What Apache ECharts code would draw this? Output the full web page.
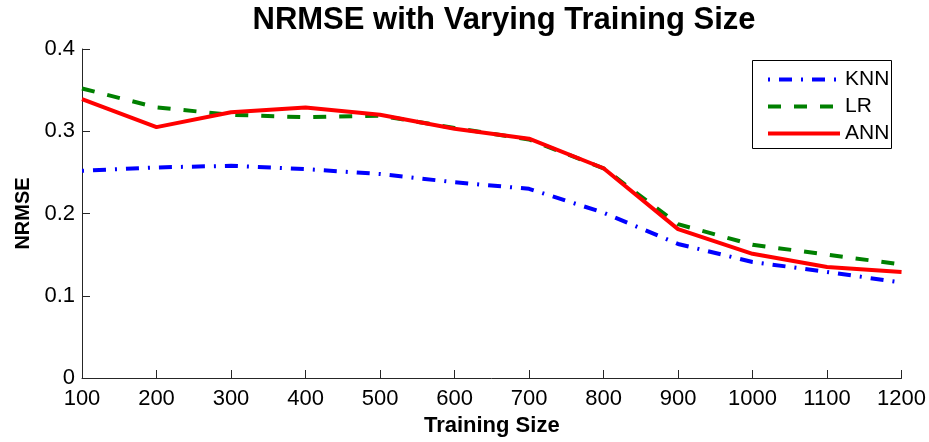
<!DOCTYPE html>
<html><head><meta charset="utf-8">
<script src="https://cdn.jsdelivr.net/npm/echarts@6/dist/echarts.min.js"></script>
<style>html,body{margin:0;padding:0;background:#fff}#c{width:929px;height:442px}</style>
</head><body><div id="c"></div>
<script>
const trainingSize = [100,200,300,400,500,600,700,800,900,1000,1100,1200];
const knn = [0.252,0.256,0.258,0.254,0.248,0.238,0.230,0.201,0.163,0.141,0.129,0.116];
const lr  = [0.352,0.329,0.320,0.317,0.319,0.304,0.290,0.255,0.187,0.162,0.150,0.138];
const ann = [0.339,0.305,0.323,0.329,0.320,0.303,0.291,0.255,0.181,0.151,0.135,0.129];
const seriesNames = ['KNN','LR','ANN'];
const pair = a => trainingSize.map((x,i)=>[x,a[i]]);
const FONT = '"Liberation Sans", Arial, Helvetica, sans-serif';
const chart = echarts.init(document.getElementById('c'));
chart.setOption({
  animation:false,
  textStyle:{fontFamily:FONT},
  title:{text:'NRMSE with Varying Training Size',left:499,textAlign:'center',top:0,
    textStyle:{fontFamily:FONT,fontSize:31,fontWeight:'bold',color:'#000'}},
  grid:{left:82,right:26,top:49,bottom:59},
  legend:{left:766,top:69,orient:'vertical',itemWidth:72,itemHeight:14,itemGap:6,
    padding:0,itemStyle:{opacity:0},lineStyle:{width:4},
    textStyle:{fontSize:21,color:'#000',fontFamily:FONT},
    data:seriesNames},
  graphic:[{type:'rect',z:100,shape:{x:752.5,y:60.5,width:139,height:88},
    style:{fill:null,stroke:'#000',lineWidth:1}}],
  xAxis:{type:'value',min:100,max:1200,interval:100,name:'Training Size',nameLocation:'middle',nameGap:37,
    nameTextStyle:{fontSize:22,fontWeight:'bold',color:'#000'},
    axisLine:{lineStyle:{color:'#262626',width:1}},
    axisTick:{inside:true,length:8,lineStyle:{color:'#262626'}},
    axisLabel:{fontSize:22,color:'#000',margin:10,formatter:v=>String(v)},
    splitLine:{show:false}},
  yAxis:{type:'value',min:0,max:0.4,interval:0.1,name:'NRMSE',nameLocation:'middle',nameGap:49,
    nameTextStyle:{fontSize:20,fontWeight:'bold',color:'#000'},
    axisLine:{show:true,lineStyle:{color:'#262626',width:1}},
    axisTick:{show:true,inside:true,length:8,lineStyle:{color:'#262626'}},
    axisLabel:{fontSize:22,color:'#000',margin:7,padding:[3,0,0,0],formatter:v=>v===0?'0':String(Math.round(v*10)/10)},
    splitLine:{show:false}},
  series:[
    {name:seriesNames[0],type:'line',data:pair(knn),showSymbol:false,symbol:'none',
      lineStyle:{color:'#0000ff',width:4,type:[2,9,13,9]},itemStyle:{color:'#0000ff'}},
    {name:seriesNames[1],type:'line',data:pair(lr),showSymbol:false,symbol:'none',
      lineStyle:{color:'#008000',width:4,type:[13,13]},itemStyle:{color:'#008000'}},
    {name:seriesNames[2],type:'line',data:pair(ann),showSymbol:false,symbol:'none',
      lineStyle:{color:'#ff0000',width:4,type:'solid'},itemStyle:{color:'#ff0000'}}
  ]
});
</script></body></html>
